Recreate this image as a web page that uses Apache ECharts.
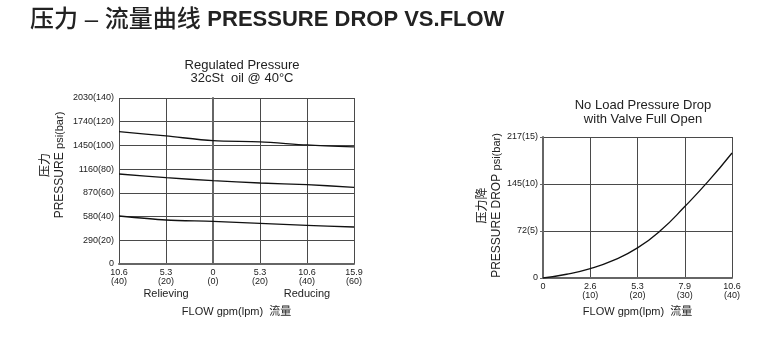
<!DOCTYPE html>
<html>
<head>
<meta charset="utf-8">
<script src="https://cdn.jsdelivr.net/npm/echarts@6/dist/echarts.min.js"></script>
<style>
  html, body { margin: 0; padding: 0; background: #fff; }
  #chart { width: 768px; height: 354px; }
</style>
</head>
<body>
<div id="chart"></div>
<script>
// left chart: regulated pressure (bar) vs flow (lpm, negative = relieving side)
const leftFlow = [-40, -20, 0, 20, 40, 60];
const highSetting = [111.6, 108, 104, 103, 100.4, 98.7];
const midSetting = [75.9, 72.8, 70.3, 68.3, 66.9, 64.7];
const lowSetting = [40.5, 37.1, 36, 34.3, 32.6, 31.2];
const leftXTicks = ['10.6\n(40)', '5.3\n(20)', '0\n(0)', '5.3\n(20)', '10.6\n(40)', '15.9\n(60)'];
const leftXSides = ['', 'Relieving', '', '', 'Reducing', ''];
const leftYTicks = ['0', '290(20)', '580(40)', '870(60)', '1160(80)', '1450(100)', '1740(120)', '2030(140)'];

// right chart: no load pressure drop (bar) vs flow (lpm)
const rightFlow = [0, 5, 10, 15, 20, 25, 30, 35, 40];
const rightDrop = [0, 0.4, 1, 1.9, 3.2, 5.1, 7.6, 10.3, 13.3];
const rightXTicks = ['0', '2.6\n(10)', '5.3\n(20)', '7.9\n(30)', '10.6\n(40)'];
const rightYTicks = ['0', '72(5)', '145(10)', '217(15)'];

const FONT = '"Liberation Sans", Arial, "Noto Sans CJK SC", sans-serif';
const gridColor = '#4a4a4a';
const axisColor = '#666';

const chart = echarts.init(document.getElementById('chart'));

const lineStyle = { color: '#111', width: 1.3 };
const mkLine = (data) => ({
  type: 'line',
  xAxisIndex: 0,
  yAxisIndex: 0,
  data: leftFlow.map((x, i) => [x, data[i]]),
  smooth: 0.3,
  symbol: 'none',
  lineStyle: lineStyle
});

const yName = (cn, en) => `{a|${cn}}\n{b|${en} }{c|psi(bar)}`;
const nameRich = {
  a: { fontSize: 12, fontFamily: FONT, color: '#222', lineHeight: 14 },
  b: { fontSize: 12, fontFamily: FONT, color: '#222', lineHeight: 14 },
  c: { fontSize: 11, fontFamily: FONT, color: '#222', lineHeight: 14 }
};

const option = {
  animation: false,
  backgroundColor: '#fff',
  textStyle: { fontFamily: FONT },
  title: [
    {
      text: '{c|压力 – 流量曲线 }{e|PRESSURE DROP VS.FLOW}',
      left: 25,
      top: 3,
      textStyle: {
        rich: {
          c: { fontSize: 24, fontWeight: 500, color: '#222', fontFamily: FONT },
          e: { fontSize: 22, fontWeight: 'bold', color: '#222', fontFamily: FONT }
        }
      }
    },
    {
      text: 'Regulated Pressure\n32cSt  oil @ 40°C',
      left: 237,
      top: 54,
      textAlign: 'center',
      textStyle: { fontSize: 13, fontWeight: 'normal', color: '#222', lineHeight: 13, fontFamily: FONT }
    },
    {
      text: 'No Load Pressure Drop\nwith Valve Full Open',
      left: 638,
      top: 93,
      textAlign: 'center',
      textStyle: { fontSize: 13, fontWeight: 'normal', color: '#222', lineHeight: 14, fontFamily: FONT }
    }
  ],
  grid: [
    { left: 119, top: 98, width: 235, height: 166 },
    { left: 543, top: 137, width: 189, height: 141 }
  ],
  xAxis: [
    {
      type: 'value',
      gridIndex: 0,
      min: -40,
      max: 60,
      interval: 20,
      name: 'FLOW gpm(lpm)  流量',
      nameLocation: 'middle',
      nameGap: 42,
      nameTextStyle: { fontSize: 11, color: '#222', fontFamily: FONT },
      axisLine: { lineStyle: { color: axisColor, width: 2 } },
      axisTick: { show: false },
      splitLine: { lineStyle: { color: gridColor, width: 1 } },
      axisLabel: {
        margin: 4,
        color: '#222',
        formatter: (v) => {
          const i = (v + 40) / 20;
          const parts = leftXTicks[i].split('\n');
          let s = `{t|${parts[0]}}\n{t|${parts[1]}}`;
          if (leftXSides[i]) s += `\n{s|${leftXSides[i]}}`;
          return s;
        },
        rich: {
          t: { fontSize: 9, lineHeight: 9, color: '#222', fontFamily: FONT },
          s: { fontSize: 11, lineHeight: 15, color: '#222', fontFamily: FONT }
        }
      }
    },
    {
      type: 'value',
      gridIndex: 1,
      min: 0,
      max: 40,
      interval: 10,
      name: 'FLOW gpm(lpm)  流量',
      nameLocation: 'middle',
      nameGap: 28,
      nameTextStyle: { fontSize: 11, color: '#222', fontFamily: FONT },
      axisLine: { lineStyle: { color: axisColor, width: 2 } },
      axisTick: { show: false },
      splitLine: { lineStyle: { color: gridColor, width: 1 } },
      axisLabel: {
        margin: 4,
        color: '#222',
        fontSize: 9,
        lineHeight: 9,
        formatter: (v) => rightXTicks[v / 10]
      }
    }
  ],
  yAxis: [
    {
      type: 'value',
      gridIndex: 0,
      min: 0,
      max: 140,
      interval: 20,
      name: yName('压力', 'PRESSURE'),
      nameLocation: 'middle',
      nameRotate: 90,
      nameGap: 52,
      nameTextStyle: { rich: nameRich, padding: [0, 0, 0, 32] },
      axisLine: { show: true, lineStyle: { color: axisColor, width: 2 } },
      axisTick: { show: true, length: 3, lineStyle: { color: axisColor } },
      splitLine: { lineStyle: { color: gridColor, width: 1 } },
      axisLabel: {
        margin: 5,
        color: '#222',
        fontSize: 9,
        formatter: (v) => leftYTicks[v / 20]
      }
    },
    {
      type: 'value',
      gridIndex: 1,
      min: 0,
      max: 15,
      interval: 5,
      name: yName('压力降', 'PRESSURE DROP'),
      nameLocation: 'middle',
      nameRotate: 90,
      nameGap: 34,
      nameTextStyle: { rich: nameRich, padding: [0, 0, 0, 4] },
      axisLine: { show: true, lineStyle: { color: axisColor, width: 2 } },
      axisTick: { show: true, length: 3, lineStyle: { color: axisColor } },
      splitLine: { lineStyle: { color: gridColor, width: 1 } },
      axisLabel: {
        margin: 5,
        color: '#222',
        fontSize: 9,
        formatter: (v) => rightYTicks[v / 5]
      }
    }
  ],
  series: [
    mkLine(highSetting),
    mkLine(midSetting),
    mkLine(lowSetting),
    {
      type: 'line',
      xAxisIndex: 1,
      yAxisIndex: 1,
      data: rightFlow.map((x, i) => [x, rightDrop[i]]),
      smooth: 0.5,
      symbol: 'none',
      lineStyle: lineStyle
    }
  ]
};

chart.setOption(option);
window.addEventListener('resize', () => chart.resize());
</script>
</body>
</html>
